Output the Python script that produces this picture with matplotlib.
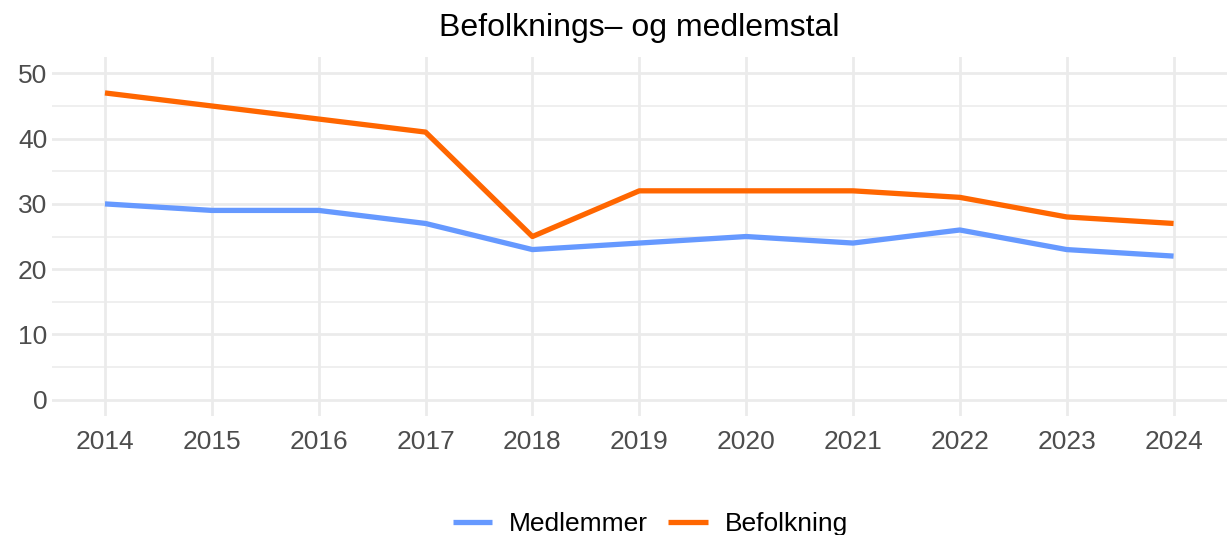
import matplotlib
matplotlib.use("Agg")
import matplotlib.pyplot as plt
from matplotlib.ticker import MultipleLocator

plt.rcParams['font.family'] = ['Liberation Sans', 'DejaVu Sans']

years = [2014, 2015, 2016, 2017, 2018, 2019, 2020, 2021, 2022, 2023, 2024]
medlemmer = [30, 29, 29, 27, 23, 24, 25, 24, 26, 23, 22]
befolkning = [47, 45, 43, 41, 25, 32, 32, 32, 31, 28, 27]
title = "Befolknings\u2013 og medlemstal"

fig = plt.figure(figsize=(12.27, 5.35), dpi=100)
ax = fig.add_axes([0.042, 0.2224, 0.958, 0.671])

ax.plot(years, medlemmer, color='#6699FF', lw=3.8, label='Medlemmer', solid_capstyle='butt')
ax.plot(years, befolkning, color='#FF6600', lw=3.8, label='Befolkning', solid_capstyle='butt')

ax.set_xlim(2013.5, 2024.5)
ax.set_ylim(-2.5, 52.5)
ax.set_xticks(years)
ax.yaxis.set_major_locator(MultipleLocator(10))
ax.yaxis.set_minor_locator(MultipleLocator(5))
ax.grid(which='major', color='#EBEBEB', lw=2.0)
ax.grid(which='minor', axis='y', color='#EBEBEB', lw=1.1)
ax.set_axisbelow(True)
for s in ax.spines.values():
    s.set_visible(False)
ax.tick_params(which='both', length=0, labelsize=19, labelcolor='#4D4D4D')
ax.tick_params(axis='x', pad=10)
ax.tick_params(axis='y', pad=3)

fig.suptitle(title, fontsize=23, y=0.975, x=0.521)
leg = fig.legend(loc='lower center', ncol=2, frameon=False, fontsize=19,
                 bbox_to_anchor=(0.53, -0.046), handlelength=1.5, columnspacing=0.75,
                 handletextpad=0.65)
fig.savefig('out.png', dpi=100, facecolor='white')
